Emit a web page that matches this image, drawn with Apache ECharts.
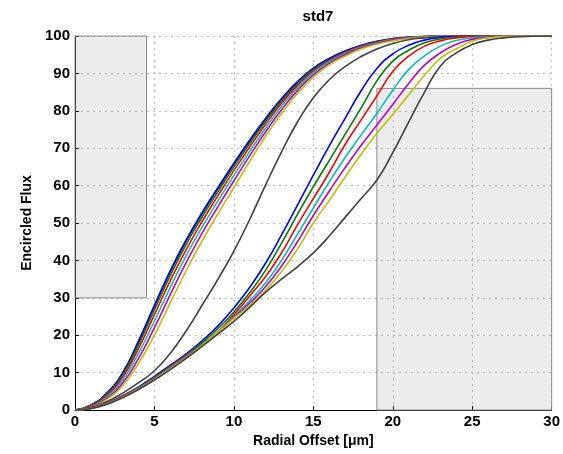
<!DOCTYPE html>
<html><head><meta charset="utf-8">
<script src="https://cdn.jsdelivr.net/npm/echarts@6/dist/echarts.min.js"></script>
<style>html,body{margin:0;padding:0;background:#fff}#c{width:563px;height:454px}</style>
</head><body><div id="c"></div>
<script>
const xs = [0,1,2,3,4,5,6,7,8,9,10,11,12,13,14,15,16,17,18,19,20,21,22,23,24,25,26,27,28,29,30];
const leftBlack   = [0,1.3,4.4,9.8,18.2,27.7,37,45.2,52.5,59.2,65.7,71.9,77.7,83.1,87.6,91.3,93.9,95.9,97.4,98.5,99.2,99.6,99.85,100,100,100,100,100,100,100,100];
const leftBlue    = [0,1.3,4.5,10,18.5,28,37.3,45.5,52.8,59.5,66,72.2,78,83.3,87.8,91.4,94,96,97.5,98.6,99.3,99.7,99.9,100,100,100,100,100,100,100,100];
const leftGreen   = [0,1.2,4.2,9.4,17.5,26.8,36,44.3,51.6,58.4,65,71.3,77.2,82.6,87.2,91,93.6,95.7,97.3,98.4,99.2,99.6,99.85,100,100,100,100,100,100,100,100];
const leftRed     = [0,1.1,3.9,8.8,16.5,25.5,34.6,42.9,50.4,57.3,64,70.4,76.4,82,86.7,90.6,93.4,95.5,97.2,98.3,99.1,99.6,99.8,100,100,100,100,100,100,100,100];
const leftCyan    = [0,0.9,3.5,8,15.2,23.8,32.8,41.3,48.9,55.9,62.7,69.2,75.4,81.2,86.1,90.2,93.1,95.3,97,98.2,99,99.5,99.8,100,100,100,100,100,100,100,100];
const leftMagenta = [0,0.75,3.1,7.2,13.8,22,30.9,39.5,47.3,54.4,61.3,68,74.4,80.3,85.4,89.6,92.7,95,96.8,98,98.9,99.4,99.75,100,100,100,100,100,100,100,100];
const leftYellow  = [0,0.6,2.8,6.5,12.5,20,28.7,37.3,45.2,52.5,59.5,66.5,73.2,79.3,84.6,89,92.3,94.6,96.5,97.8,98.7,99.3,99.7,99.9,100,100,100,100,100,100,100];
const midGray     = [0,0.6,2.2,4.5,7.3,10.5,15.2,21.2,28,35,42.5,51,60.2,69,77,83.5,88.3,91.8,94.5,96.5,98,99,99.5,99.8,100,100,100,100,100,100,100];
const rightBlue   = [0,0.5,1.8,3.8,6.2,9,12,15,18.5,22.5,27.3,32.8,39.3,46.8,54.8,62.8,70.6,78,85.3,91.3,95.2,97.5,98.9,99.6,99.9,100,100,100,100,100,100];
const rightGreen  = [0,0.5,1.7,3.7,6,8.7,11.7,14.7,18,21.8,26.2,31.4,37.4,44.6,52.3,59.7,66.7,73.7,80.7,88,93.3,96.2,98.2,99.2,99.7,100,100,100,100,100,100];
const rightRed    = [0,0.5,1.7,3.6,5.9,8.5,11.5,14.5,17.5,21,25.5,30.5,35.7,42,49.5,56.5,63.5,71,77.5,84,90.5,94.6,97.3,98.7,99.5,99.9,100,100,100,100,100];
const rightCyan   = [0,0.4,1.7,3.5,5.8,8.4,11.3,14.3,17.4,20.9,25,29.3,34,40,47,54,61,67.5,73.5,79.3,85.5,91,94.7,97.3,98.8,99.5,99.9,100,100,100,100];
const rightMagenta= [0,0.4,1.6,3.5,5.7,8.3,11.1,14.1,17.3,20.8,24.7,28.6,33,38.5,45,52,58.5,64.8,70.7,76.2,81.7,87.3,92.2,95.5,97.8,99.1,99.7,100,100,100,100];
const rightYellow = [0,0.4,1.6,3.4,5.6,8.2,11,14,17.3,20.8,24.5,28,32,37,43,50,56,62.3,68.3,74,79,84.3,89.5,94,96.6,98.6,99.5,99.9,100,100,100];
const rightGray   = [0,0.4,1.5,3.3,5.5,8,10.8,13.8,17,20.3,23.7,27.5,31.5,35,38.3,42,46.5,51.5,56.5,61.5,68.8,77,85,92,95.5,97.7,98.9,99.5,99.8,99.95,100];

const boxLeft  = [0, 30, 4.5, 100];   // x0, y0, x1, y1
const boxRight = [19, 0, 30, 86];

const curves = [
  ['Left K', leftBlack, '#303030'],
  ['Left B', leftBlue, '#0000ff'],
  ['Left G', leftGreen, '#008000'],
  ['Left R', leftRed, '#ff0000'],
  ['Left C', leftCyan, '#00bfbf'],
  ['Left M', leftMagenta, '#bf00bf'],
  ['Left Y', leftYellow, '#bfbf00'],
  ['Mid K', midGray, '#404040'],
  ['Right B', rightBlue, '#0000ff'],
  ['Right G', rightGreen, '#008000'],
  ['Right R', rightRed, '#ff0000'],
  ['Right C', rightCyan, '#00bfbf'],
  ['Right M', rightMagenta, '#bf00bf'],
  ['Right Y', rightYellow, '#bfbf00'],
  ['Right K', rightGray, '#404040']
];

const font = 'Liberation Sans, Arial, Helvetica, sans-serif';
const chart = echarts.init(document.getElementById('c'), null, {renderer: 'canvas'});

const series = [{
  type: 'line', data: [], silent: true,
  markArea: {
    silent: true,
    itemStyle: {color: 'rgba(0,0,0,0.075)', borderColor: '#8a8a8a', borderWidth: 1},
    data: [
      [{coord: [boxLeft[0], boxLeft[1]]}, {coord: [boxLeft[2], boxLeft[3]]}],
      [{coord: [boxRight[0], boxRight[1]]}, {coord: [boxRight[2], boxRight[3]]}]
    ]
  }
}];
curves.forEach(c => {
  series.push({
    name: c[0], type: 'line', showSymbol: false, smooth: 0.5,
    data: xs.map((x, i) => [x, c[1][i]]),
    lineStyle: {color: c[2], width: 1.6}, itemStyle: {color: c[2]}, z: 3
  });
});

chart.setOption({
  animation: false,
  backgroundColor: '#fff',
  title: {text: 'std7', left: 313, top: 4, textAlign: 'center',
    textStyle: {fontFamily: font, fontWeight: 'bold', fontSize: 15, color: '#000'}},
  grid: {left: 75, right: 11, top: 36, bottom: 44},
  xAxis: {
    type: 'value', min: 0, max: 30, interval: 5,
    name: 'Radial Offset [μm]', nameLocation: 'middle', nameGap: 19,
    nameTextStyle: {fontFamily: font, fontWeight: 'bold', fontSize: 14, color: '#000'},
    axisLine: {lineStyle: {color: '#000', width: 1}},
    axisTick: {inside: true, length: 4, lineStyle: {color: '#000'}},
    axisLabel: {fontFamily: font, fontWeight: 'bold', fontSize: 15, color: '#000', margin: 4},
    splitLine: {show: true, lineStyle: {color: '#c0c0c0', type: [2, 4], width: 1}}
  },
  yAxis: {
    type: 'value', min: 0, max: 100, interval: 10,
    name: 'Encircled Flux', nameLocation: 'middle', nameGap: 36,
    nameTextStyle: {fontFamily: font, fontWeight: 'bold', fontSize: 14, color: '#000'},
    axisLine: {show: true, lineStyle: {color: '#000', width: 1}},
    axisTick: {show: true, inside: true, length: 4, lineStyle: {color: '#000'}},
    axisLabel: {fontFamily: font, fontWeight: 'bold', fontSize: 15, color: '#000', margin: 5},
    splitLine: {show: true, lineStyle: {color: '#c0c0c0', type: [2, 4], width: 1}}
  },
  series: series
});
</script></body></html>
